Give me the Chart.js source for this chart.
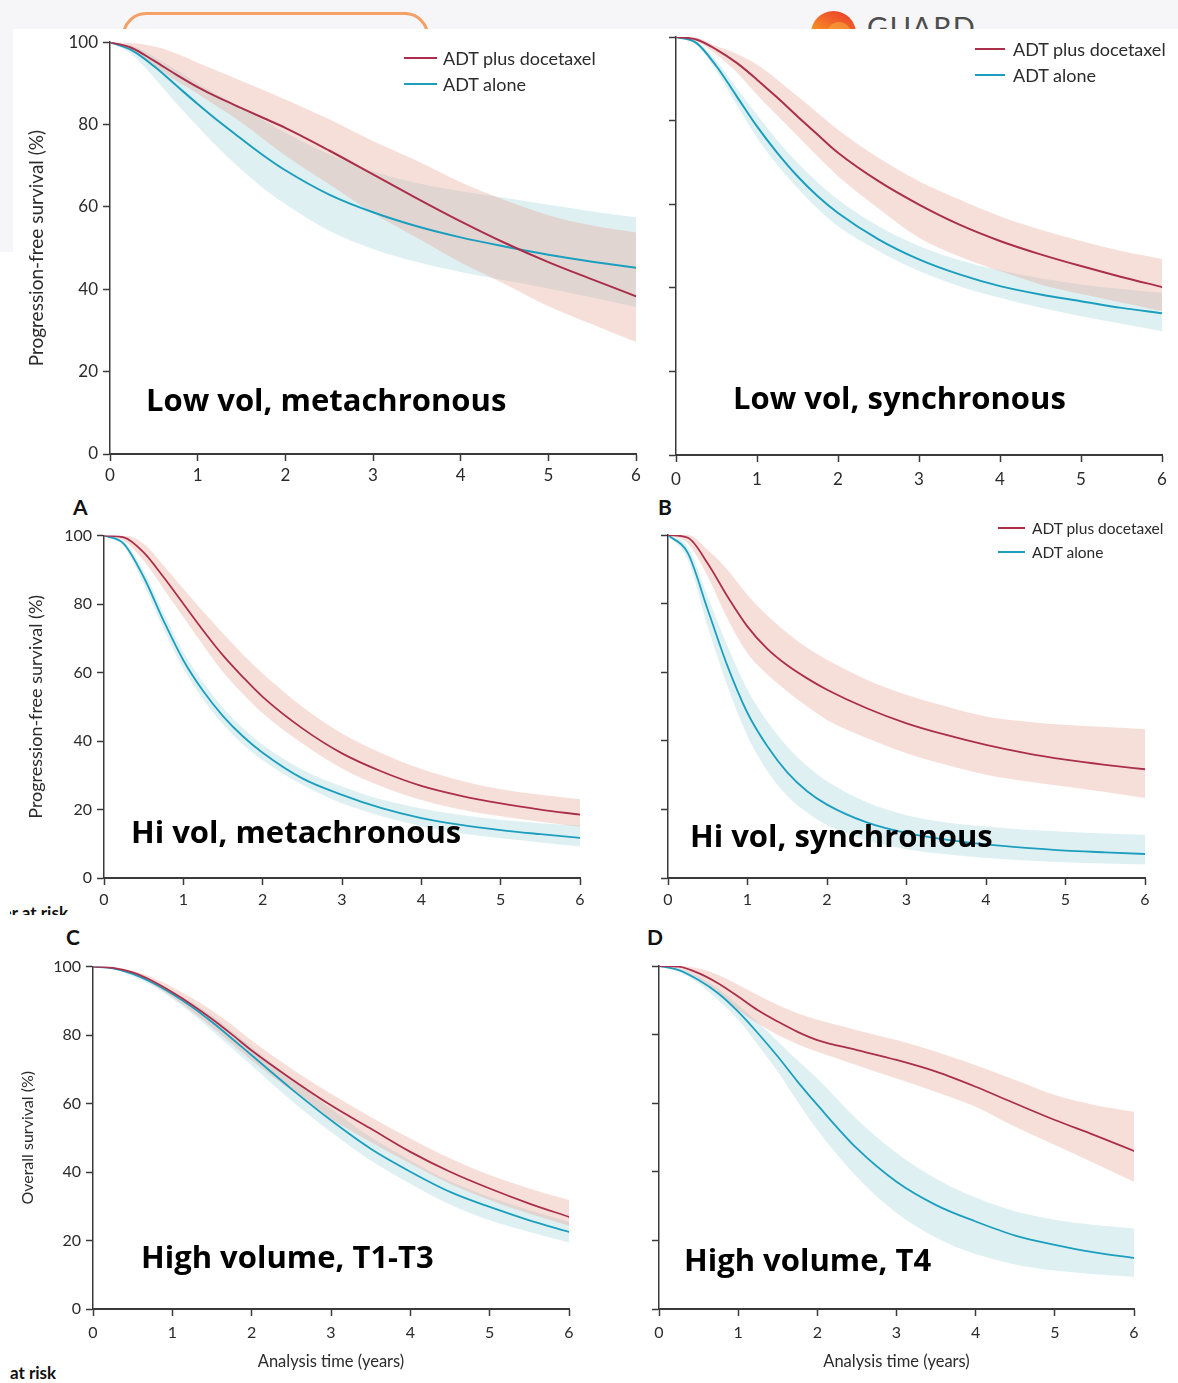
<!DOCTYPE html>
<html>
<head>
<meta charset="utf-8">
<script src="https://cdn.jsdelivr.net/npm/chart.js@4.4.1/dist/chart.umd.min.js"></script>
<style>
  html, body { margin: 0; padding: 0; background: #ffffff; }
  body { width: 1178px; height: 1383px; position: relative; overflow: hidden; font-family: Lato, "Noto Sans", sans-serif; color: #222; }
  .abs { position: absolute; }
  canvas { position: absolute; }
  .title { position: absolute; font: 700 31px "Open Sans", Lato, sans-serif; line-height: 1; color: #000; white-space: nowrap; }
  .letter { position: absolute; font: 700 21px "Liberation Sans Narrow", Lato, sans-serif; line-height: 1; color: #111; }
  .legend { position: absolute; color: #2b2b2b; white-space: nowrap; }
  .legend .row { display: flex; align-items: center; }
  .legend .sw { display: inline-block; height: 2px; }
</style>
</head>
<body>

<!-- header strip -->
<div class="abs" style="left:0;top:0;width:1178px;height:29px;background:#f6f6f8;overflow:hidden">
  <div class="abs" style="left:122px;top:12px;width:307px;height:80px;border:3px solid #f4a066;border-radius:24px;box-sizing:border-box"></div>
  <div class="abs" style="left:811px;top:11px;width:45px;height:45px;border-radius:50%;background:linear-gradient(210deg,#e63b2a 0%,#f2642a 35%,#f79a22 65%,#fbcb2a 100%)"></div>
  <div class="abs" style="left:827px;top:22px;width:24px;height:24px;border-radius:50%;background:#f8b23a;opacity:0.55"></div>
  <div class="abs" style="left:867px;top:12px;font:400 29px Lato, sans-serif;line-height:1;letter-spacing:1.5px;color:#4d4d4d">GUARD</div>
</div>
<div class="abs" style="left:0;top:29px;width:13px;height:223px;background:#f6f6f8"></div>

<div class="abs" style="left:10px;top:904px;width:58px;height:11px;overflow:hidden">
  <div style="position:absolute;right:0;top:0;font:700 17px Lato, sans-serif;line-height:1;white-space:nowrap;color:#111">Number at risk</div>
</div>
<div class="abs" style="left:10px;top:1364px;font:700 17px Lato, sans-serif;line-height:1;color:#111">at risk</div>

<script>
// ---- shared axes / labels ----
const years = [0, 0.25, 0.5, 0.75, 1, 1.25, 1.5, 1.75, 2, 2.5, 3, 3.5, 4, 4.5, 5, 5.5, 6];
const xTicks = [0, 1, 2, 3, 4, 5, 6];
const yTicks = [0, 20, 40, 60, 80, 100];
const seriesNames = ['ADT plus docetaxel', 'ADT alone'];
const panelTitles = ['Low vol, metachronous', 'Low vol, synchronous', 'Hi vol, metachronous',
                     'Hi vol, synchronous', 'High volume, T1-T3', 'High volume, T4'];
const panelLetters = ['A', 'B', 'C', 'D'];
const pfsTitle = 'Progression-free survival (%)';
const osTitle = 'Overall survival (%)';
const timeTitle = 'Analysis time (years)';

// ---- low volume, metachronous (PFS) ----
const lowMetaDoc   = [100, 98.6, 95.5, 92.2, 89.1, 86.4, 84.0, 81.6, 79.2, 73.7, 67.9, 62.1, 56.5, 51.3, 46.6, 42.4, 38.3];
const lowMetaDocHi = [100, 99.8, 99.0, 97.3, 95.0, 92.8, 90.6, 88.4, 86.1, 81.3, 76.0, 71.2, 66.0, 61.7, 58.0, 55.5, 53.8];
const lowMetaDocLo = [100, 98.0, 94.3, 90.7, 87.5, 84.0, 80.5, 76.5, 72.5, 65.5, 58.5, 52.5, 46.5, 41.3, 35.9, 31.5, 27.2];
const lowMetaAdt   = [100, 98.0, 94.2, 89.6, 85.0, 80.6, 76.5, 72.5, 68.9, 63.0, 58.7, 55.3, 52.6, 50.4, 48.4, 46.7, 45.2];
const lowMetaAdtHi = [100, 99.2, 96.5, 93.3, 90.0, 87.0, 84.0, 81.0, 78.0, 72.8, 68.6, 65.8, 63.8, 62.2, 60.5, 58.9, 57.5];
const lowMetaAdtLo = [100, 97.0, 91.5, 85.3, 79.5, 74.0, 69.0, 64.5, 60.7, 54.2, 49.8, 46.6, 44.2, 42.2, 40.2, 38.0, 35.7];

// ---- low volume, synchronous (PFS) ----
const lowSyncDoc   = [100, 99.4, 97.0, 93.8, 89.8, 85.5, 81.0, 76.6, 72.3, 65.5, 59.9, 55.1, 51.2, 48.0, 45.2, 42.6, 40.2];
const lowSyncDocHi = [100, 99.8, 97.8, 96.0, 93.4, 89.8, 85.8, 81.8, 77.8, 71.1, 65.5, 61.1, 57.1, 53.9, 51.2, 48.8, 46.9];
const lowSyncDocLo = [100, 99.0, 95.8, 91.5, 86.2, 81.2, 76.3, 71.4, 66.7, 59.0, 52.0, 47.5, 44.0, 40.8, 38.5, 36.5, 34.4];
const lowSyncAdt   = [100, 98.6, 93.0, 85.8, 78.6, 72.3, 66.7, 61.9, 57.9, 51.6, 46.8, 43.2, 40.4, 38.4, 36.8, 35.2, 33.9];
const lowSyncAdtHi = [100, 99.0, 94.2, 87.8, 81.4, 75.3, 69.9, 65.2, 61.1, 54.7, 50.0, 46.6, 44.2, 42.3, 40.8, 39.7, 38.8];
const lowSyncAdtLo = [100, 98.2, 91.8, 83.8, 75.9, 69.4, 63.9, 58.9, 54.7, 48.8, 44.0, 40.4, 37.6, 35.2, 33.2, 31.4, 29.6];

// ---- high volume, metachronous (PFS) ----
const hiMetaDoc   = [100, 99.5, 95.1, 87.9, 80.1, 72.3, 65.0, 58.7, 52.9, 43.7, 36.4, 31.1, 26.9, 24.0, 21.8, 20.0, 18.5];
const hiMetaDocHi = [100, 100, 97.6, 91.3, 84.5, 77.8, 71.4, 65.3, 59.7, 50.0, 42.2, 36.4, 31.8, 28.4, 25.9, 24.3, 23.0];
const hiMetaDocLo = [100, 98.5, 92.7, 84.5, 76.2, 68.0, 60.2, 53.8, 48.1, 39.3, 32.0, 26.7, 22.8, 20.0, 18.0, 16.4, 15.0];
const hiMetaAdt   = [100, 97.6, 87.9, 75.2, 63.6, 54.6, 47.3, 41.4, 36.6, 29.1, 24.3, 20.4, 17.5, 15.5, 14.0, 12.8, 11.7];
const hiMetaAdtHi = [100, 98.3, 89.8, 77.5, 66.0, 57.1, 49.7, 43.8, 38.9, 31.6, 26.7, 22.9, 20.3, 18.4, 17.0, 16.0, 15.3];
const hiMetaAdtLo = [100, 96.8, 85.9, 72.8, 61.2, 52.2, 44.9, 39.0, 34.4, 27.2, 21.8, 18.0, 15.1, 13.1, 11.6, 10.4, 9.2];

// ---- high volume, synchronous (PFS) ----
const hiSyncDoc   = [100, 99.2, 91.7, 82.0, 73.3, 66.8, 62.0, 58.2, 54.9, 49.5, 45.1, 41.7, 38.8, 36.4, 34.5, 33.0, 31.7];
const hiSyncDocHi = [100, 100, 95.6, 89.8, 82.5, 76.5, 71.4, 67.1, 63.6, 57.8, 53.4, 50.0, 47.1, 45.6, 44.6, 44.0, 43.4];
const hiSyncDocLo = [100, 97.5, 87.9, 75.5, 65.5, 59.3, 54.4, 50.0, 46.1, 40.8, 36.4, 33.0, 30.1, 28.2, 26.7, 25.1, 23.3];
const hiSyncAdt   = [100, 94.7, 78.2, 61.7, 48.1, 38.4, 30.8, 25.3, 21.4, 16.2, 13.1, 11.2, 9.8, 8.8, 8.0, 7.5, 7.0];
const hiSyncAdtHi = [100, 96.6, 82.0, 67.5, 54.9, 45.6, 38.3, 32.7, 28.2, 22.1, 18.3, 16.2, 15.0, 14.1, 13.5, 13.0, 12.6];
const hiSyncAdtLo = [100, 92.7, 73.3, 55.8, 41.3, 31.1, 23.9, 19.0, 15.4, 11.0, 8.4, 6.9, 5.8, 5.1, 4.6, 4.2, 3.9];

// ---- high volume, T1-T3 (OS) ----
const hvT13Doc   = [100, 99.6, 98.3, 95.8, 92.5, 88.8, 84.7, 80.2, 75.5, 67.2, 59.5, 52.7, 45.9, 40.1, 35.2, 30.8, 26.9];
const hvT13DocHi = [100, 99.8, 98.8, 96.8, 94.0, 90.8, 87.2, 83.0, 78.4, 70.2, 62.9, 56.1, 49.8, 44.0, 39.1, 35.2, 31.8];
const hvT13DocLo = [100, 99.4, 97.9, 94.8, 91.1, 86.8, 82.3, 77.5, 72.6, 63.8, 55.6, 48.8, 42.5, 36.6, 31.8, 27.8, 24.3];
const hvT13Adt   = [100, 99.5, 97.9, 95.3, 92.0, 88.2, 83.8, 79.0, 74.1, 64.3, 55.1, 46.8, 40.1, 34.2, 29.8, 25.9, 22.5];
const hvT13AdtHi = [100, 99.7, 98.3, 96.0, 93.0, 89.5, 85.7, 81.2, 76.5, 67.2, 58.5, 50.2, 43.4, 37.3, 32.7, 28.9, 25.5];
const hvT13AdtLo = [100, 99.3, 97.2, 94.3, 90.6, 86.2, 81.3, 76.2, 71.1, 60.9, 51.7, 43.4, 36.6, 30.5, 25.9, 22.5, 19.4];

// ---- high volume, T4 (OS) ----
const hvT4Doc   = [100, 99.8, 97.9, 94.9, 91.1, 87.1, 83.8, 80.8, 78.4, 75.5, 72.6, 69.2, 64.8, 59.9, 55.1, 50.7, 46.1];
const hvT4DocHi = [100, 100, 99.3, 97.4, 94.5, 91.5, 88.6, 86.2, 84.3, 81.3, 78.4, 75.0, 71.1, 66.8, 62.4, 59.5, 57.5];
const hvT4DocLo = [100, 99.3, 96.4, 92.0, 87.2, 83.2, 79.9, 77.2, 75.0, 71.1, 67.2, 63.3, 59.0, 53.1, 47.8, 42.5, 37.1];
const hvT4Adt   = [100, 98.8, 95.9, 92.0, 86.7, 80.4, 73.6, 66.3, 59.5, 46.8, 37.1, 30.3, 25.5, 21.4, 18.7, 16.5, 14.9];
const hvT4AdtHi = [100, 99.3, 96.9, 93.3, 88.6, 83.5, 78.0, 72.5, 67.2, 55.3, 45.5, 38.0, 32.5, 28.5, 26.0, 24.5, 23.5];
const hvT4AdtLo = [100, 98.3, 94.9, 90.0, 84.3, 77.0, 69.2, 60.5, 52.2, 38.5, 28.0, 20.8, 16.0, 13.0, 11.2, 10.1, 9.4];

// ---- styling ----
const RED = '#ab2f4b';
const BLUE = '#1c9fbf';
const PINK = 'rgba(228,150,130,0.30)';
const AQUA = 'rgba(150,205,215,0.30)';
const AXIS = '#3a3a3a';
const TEXT = '#2b2b2b';

Chart.defaults.font.family = 'Lato, "Noto Sans", sans-serif';
Chart.defaults.color = TEXT;

// plot rectangle [left, top, right, bottom] in page pixels and the room around it
const panels = [
  { series: [lowMetaDoc, lowMetaDocHi, lowMetaDocLo, lowMetaAdt, lowMetaAdtHi, lowMetaAdtLo],
    plot: [110, 41, 636, 454], yW: 100, padTop: 14, padR: 20, xH: 36, lw: 2,
    yLabels: true, tickFont: 17, xTickPad: 4, yTitle: pfsTitle, yTitleSize: 19, yTitlePad: 15.6 },
  { series: [lowSyncDoc, lowSyncDocHi, lowSyncDocLo, lowSyncAdt, lowSyncAdtHi, lowSyncAdtLo],
    plot: [676, 37, 1162, 455], yW: 20, padTop: 14, padR: 16, xH: 36, lw: 2,
    yLabels: false, tickFont: 17, xTickPad: 7 },
  { series: [hiMetaDoc, hiMetaDocHi, hiMetaDocLo, hiMetaAdt, hiMetaAdtHi, hiMetaAdtLo],
    plot: [104, 535, 580, 878], yW: 94, padTop: 14, padR: 20, xH: 36, lw: 1.8,
    yLabels: true, tickFont: 16, xTickPad: 5, yTitle: pfsTitle, yTitleSize: 18, yTitlePad: 15.2 },
  { series: [hiSyncDoc, hiSyncDocHi, hiSyncDocLo, hiSyncAdt, hiSyncAdtHi, hiSyncAdtLo],
    plot: [668, 535, 1145, 878], yW: 20, padTop: 14, padR: 20, xH: 36, lw: 1.8,
    yLabels: false, tickFont: 16, xTickPad: 5 },
  { series: [hvT13Doc, hvT13DocHi, hvT13DocLo, hvT13Adt, hvT13AdtHi, hvT13AdtLo],
    plot: [93, 966, 569, 1309], yW: 88, padTop: 14, padR: 20, xH: 70, lw: 1.8,
    yLabels: true, tickFont: 16, xTickPad: 7, yTitle: osTitle, yTitleSize: 16, yTitlePad: 13.4,
    xTitle: timeTitle },
  { series: [hvT4Doc, hvT4DocHi, hvT4DocLo, hvT4Adt, hvT4AdtHi, hvT4AdtLo],
    plot: [659, 966, 1134, 1309], yW: 20, padTop: 14, padR: 20, xH: 70, lw: 1.8,
    yLabels: false, tickFont: 16, xTickPad: 7, xTitle: timeTitle }
];

function points(values) {
  return years.map((x, i) => ({ x: x, y: values[i] }));
}

function drawPanel(p) {
  const [L, T, R, B] = p.plot;
  const left = L - p.yW, top = T - p.padTop;
  const w = R + p.padR - left, h = B + p.xH - top;
  const cv = document.createElement('canvas');
  cv.width = w; cv.height = h;
  cv.style.left = left + 'px'; cv.style.top = top + 'px';
  cv.style.width = w + 'px'; cv.style.height = h + 'px';
  document.body.appendChild(cv);

  const [doc, docHi, docLo, adt, adtHi, adtLo] = p.series;
  const band = { borderWidth: 0, borderColor: 'rgba(0,0,0,0)', pointRadius: 0 };

  new Chart(cv, {
    type: 'line',
    data: {
      datasets: [
        { label: seriesNames[0], data: points(doc), borderColor: RED, borderWidth: p.lw, fill: false },
        { label: seriesNames[1], data: points(adt), borderColor: BLUE, borderWidth: p.lw, fill: false },
        Object.assign({ label: 'docetaxel upper', data: points(docHi), backgroundColor: PINK, fill: '+1' }, band),
        Object.assign({ label: 'docetaxel lower', data: points(docLo), fill: false }, band),
        Object.assign({ label: 'alone upper', data: points(adtHi), backgroundColor: AQUA, fill: '+1' }, band),
        Object.assign({ label: 'alone lower', data: points(adtLo), fill: false }, band)
      ]
    },
    options: {
      responsive: false,
      animation: false,
      devicePixelRatio: 1,
      events: [],
      layout: { padding: { left: 0, top: p.padTop, right: p.padR, bottom: 0 } },
      elements: {
        point: { radius: 0 },
        line: { cubicInterpolationMode: 'monotone', borderCapStyle: 'round', borderJoinStyle: 'round' }
      },
      plugins: { legend: { display: false }, tooltip: { enabled: false } },
      scales: {
        x: {
          type: 'linear', min: 0, max: 6,
          afterBuildTicks: (s) => { s.ticks = xTicks.map(v => ({ value: v })); },
          afterFit: (s) => { s.height = p.xH; },
          grid: { drawOnChartArea: false, drawTicks: true, tickLength: 7, tickColor: AXIS, tickWidth: 1.5 },
          border: { display: true, color: AXIS, width: 2 },
          ticks: { padding: p.xTickPad, maxRotation: 0, autoSkip: false, color: TEXT, font: { size: p.tickFont } },
          title: p.xTitle ? { display: true, text: p.xTitle, color: TEXT, font: { size: 16.5 }, padding: { top: 0, bottom: 7 } } : { display: false }
        },
        y: {
          type: 'linear', min: 0, max: 100,
          afterBuildTicks: (s) => { s.ticks = yTicks.map(v => ({ value: v })); },
          afterFit: (s) => { s.width = p.yW; },
          grid: { drawOnChartArea: false, drawTicks: true, tickLength: 7, tickColor: AXIS, tickWidth: 1.5 },
          border: { display: true, color: AXIS, width: 1.5 },
          ticks: { display: p.yLabels, padding: 5, autoSkip: false, color: TEXT, font: { size: p.tickFont } },
          title: p.yTitle ? { display: true, text: p.yTitle, color: TEXT, font: { size: p.yTitleSize }, padding: { top: p.yTitlePad, bottom: 0 } } : { display: false }
        }
      }
    }
  });
}

panels.forEach(drawPanel);

// ---- overlay text: panel titles, letters, legends ----
function addTitle(text, x, y) {
  const d = document.createElement('div');
  d.className = 'title';
  d.textContent = text;
  d.style.left = x + 'px'; d.style.top = y + 'px';
  document.body.appendChild(d);
}
const titleSpots = [[146, 384], [733, 382], [131, 816], [690, 820], [141, 1241], [684, 1244]];
panelTitles.forEach((t, i) => addTitle(t, titleSpots[i][0], titleSpots[i][1]));

const letterSpots = [[73, 496], [658, 496], [66, 926], [647, 926]];
panelLetters.forEach((t, i) => {
  const d = document.createElement('div');
  d.className = 'letter';
  d.textContent = t;
  d.style.left = letterSpots[i][0] + 'px'; d.style.top = letterSpots[i][1] + 'px';
  document.body.appendChild(d);
});

function addLegend(x, y, swatch, gap, rowH, size) {
  const box = document.createElement('div');
  box.className = 'legend';
  box.style.left = x + 'px'; box.style.top = y + 'px';
  box.style.font = '400 ' + size + 'px Lato, sans-serif';
  [RED, BLUE].forEach((col, i) => {
    const row = document.createElement('div');
    row.className = 'row';
    row.style.height = rowH + 'px';
    const sw = document.createElement('span');
    sw.className = 'sw';
    sw.style.width = swatch + 'px'; sw.style.background = col; sw.style.marginRight = gap + 'px';
    const tx = document.createElement('span');
    tx.textContent = seriesNames[i];
    row.appendChild(sw); row.appendChild(tx);
    box.appendChild(row);
  });
  document.body.appendChild(box);
}
addLegend(404, 45, 33, 6, 26, 18);
addLegend(975, 36, 30, 8, 26, 18);
addLegend(998, 516, 27, 7, 24, 15.5);
</script>
</body>
</html>
